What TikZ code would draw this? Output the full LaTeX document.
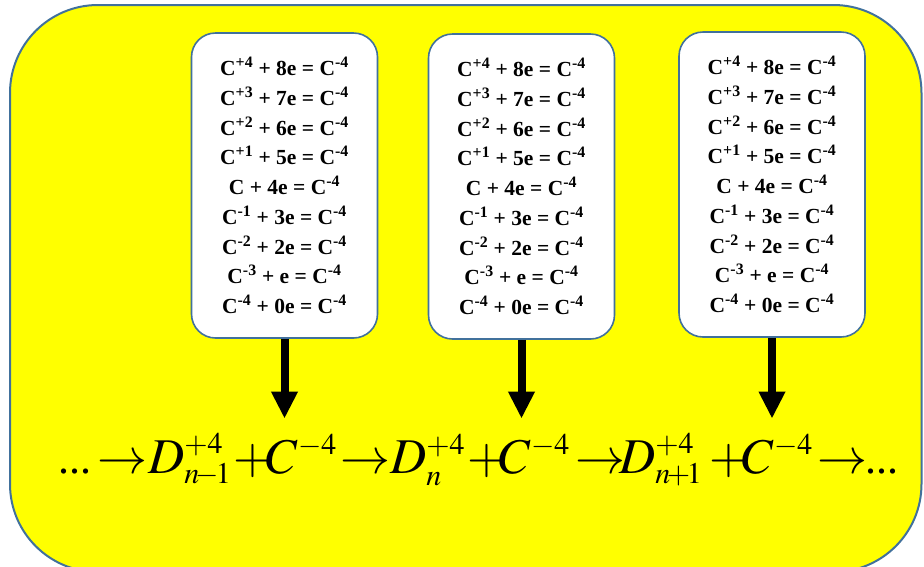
\documentclass[tikz,border=0pt]{standalone}
\usepackage{mathptmx}
\usepackage[no-math]{fontspec}
\setmainfont{Liberation Serif}
\usetikzlibrary{positioning,arrows.meta}
\definecolor{ionblue}{RGB}{65,113,156}
\definecolor{ionyellow}{RGB}{255,255,0}
\newcommand{\Cion}[1]{C\textsuperscript{#1}}
\newcommand{\chs}[1]{{\scriptscriptstyle #1}}
\newcommand{\ionrows}{%
  \Cion{+4} + 8e = \Cion{-4}\\
  \Cion{+3} + 7e = \Cion{-4}\\
  \Cion{+2} + 6e = \Cion{-4}\\
  \Cion{+1} + 5e = \Cion{-4}\\
  C + 4e = \Cion{-4}\\
  \Cion{-1} + 3e = \Cion{-4}\\
  \Cion{-2} + 2e = \Cion{-4}\\
  \Cion{-3} + e = \Cion{-4}\\
  \Cion{-4} + 0e = \Cion{-4}}
\tikzset{
  panel/.style={draw=ionblue,line width=2pt,fill=ionyellow,rounded corners=88pt},
  ionbox/.style={draw=ionblue,line width=1.6pt,fill=white,rounded corners=24pt,
    minimum width=186pt,minimum height=305pt,align=center,inner sep=0pt,
    font=\fontsize{21.5}{29.75}\selectfont\bfseries},
  feed/.style={-{Triangle[length=27pt,width=25pt]},line width=8pt,shorten >=16pt},
  chain/.style={anchor=base west,inner sep=0pt,font=\fontsize{50}{56}\selectfont},
}
\begin{document}
\begin{tikzpicture}[x=1pt,y=-1pt]
  \clip (0,0) rectangle (924,566);
  \draw[panel] (10,5) rectangle (921.5,572);
  % the three electron-capture tables
  \foreach \cx/\cy/\k in {284.5/185.5/1,521.5/186.5/2,772/184.5/3}
    \node[ionbox] (box\k) at (\cx,\cy) {\ionrows};
  % reaction chain
  \node[chain,font=\fontsize{44}{56}\selectfont] (lead) at (58,473) {...};
  \node[chain] (r0) at (97,473) {$\rightarrow$};
  \node[chain] (d1) at (148,473) {$D^{\chs{+4}}_{\chs{n\mkern-2mu{-}\mkern-2mu1}}$};
  \node[chain] (p1) at (233,473) {$+$};
  \node[chain] (cion1) at (266,473) {$C^{\chs{-4}}$};
  \node[chain] (r1) at (340,473) {$\rightarrow$};
  \node[chain] (d2) at (390,473) {$D^{\chs{+4}}_{\chs{n}}$};
  \node[chain] (p2) at (467,473) {$+$};
  \node[chain] (cion2) at (499,473) {$C^{\chs{-4}}$};
  \node[chain] (r2) at (575,473) {$\rightarrow$};
  \node[chain] (d3) at (619,473) {$D^{\chs{+4}}_{\chs{n\mkern-2mu{+}\mkern-2mu1}}$};
  \node[chain] (p3) at (709,473) {$+$};
  \node[chain] (cion3) at (742,473) {$C^{\chs{-4}}$};
  \node[chain] (r3) at (817,473) {$\rightarrow$};
  \node[chain,font=\fontsize{44}{56}\selectfont] (tail) at (865,473) {...};
  \foreach \k in {1,2,3}
    \draw[feed] (box\k.south) -- (box\k.south |- cion\k.north);
\end{tikzpicture}
\end{document}
